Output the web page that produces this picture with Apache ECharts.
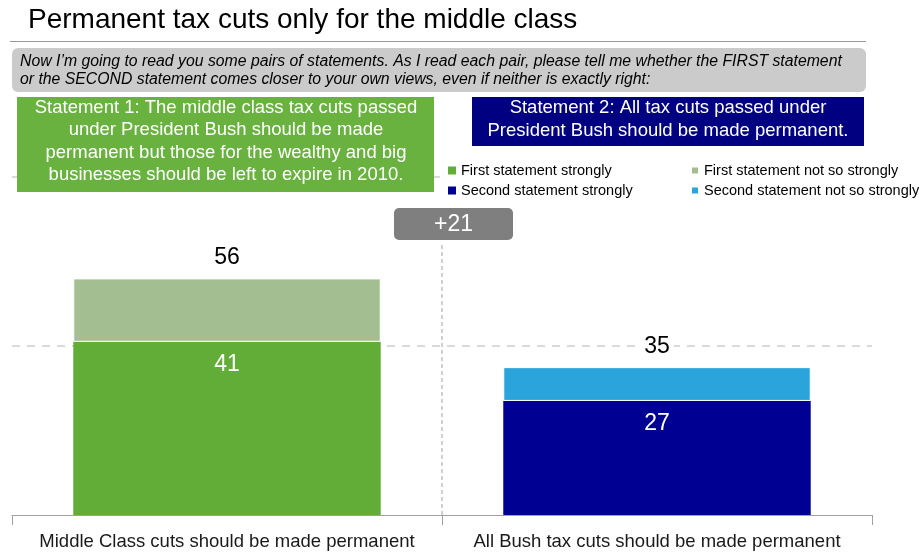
<!DOCTYPE html>
<html>
<head>
<meta charset="utf-8">
<script src="https://cdn.jsdelivr.net/npm/echarts@6/dist/echarts.min.js"></script>
<style>
  html, body { margin: 0; padding: 0; background: #fff; }
  #chart { width: 919px; height: 552px; }
</style>
</head>
<body>
<div id="chart"></div>
<script>
// Survey results: which statement comes closer to the respondent's views
const categories = [
  'Middle Class cuts should be made permanent',
  'All Bush tax cuts should be made permanent'
];
const firstStrongly    = [41, null];
const firstNotSo       = [15, null];
const secondStrongly   = [null, 27];
const secondNotSo      = [null, 8];
const seriesNames = [
  'First statement strongly',
  'First statement not so strongly',
  'Second statement strongly',
  'Second statement not so strongly'
];
const valueTicks = [0, 40, 80];

const totals = categories.map((_, i) =>
  (firstStrongly[i] || 0) + (firstNotSo[i] || 0) + (secondStrongly[i] || 0) + (secondNotSo[i] || 0));
const gap = totals[0] - totals[1];

const FONT = '"Liberation Sans", Arial, sans-serif';
const C_GREEN = '#62AD38';
const C_LGREEN = '#A3BF91';
const C_NAVY = '#000092';
const C_BLUE = '#2AA4DB';

const chart = echarts.init(document.getElementById('chart'), null, { renderer: 'canvas' });

const strongLabel = {
  show: true, position: 'insideTop', distance: 11,
  color: '#fff', fontSize: 23, fontFamily: FONT
};
const totalLabel = {
  show: true, position: 'top', distance: 9,
  color: '#000', fontSize: 23, fontFamily: FONT,
  backgroundColor: '#fff', padding: [0, 4],
  formatter: p => String(totals[p.dataIndex])
};

const legendBase = {
  orient: 'vertical', top: 159, itemWidth: 8, itemHeight: 8, itemGap: 5,
  icon: 'rect', backgroundColor: '#fff',
  textStyle: { fontSize: 14.5, fontFamily: FONT, color: '#000', lineHeight: 14 },
  selectedMode: false
};

chart.setOption({
  animation: false,
  textStyle: { fontFamily: FONT },
  grid: { left: 12, right: 47, top: 177, bottom: 37 },
  legend: [
    Object.assign({}, legendBase, { left: 445, padding: [4, 52, 4, 3],
      data: [seriesNames[0], seriesNames[2]] }),
    Object.assign({}, legendBase, { left: 687, padding: [4, 30, 4, 3],
      data: [seriesNames[1], seriesNames[3]] })
  ],
  xAxis: [{
    type: 'category',
    data: categories,
    axisLine: { lineStyle: { color: '#a0a0a0', width: 1 } },
    axisTick: { show: true, length: 10, lineStyle: { color: '#a0a0a0' } },
    axisLabel: { interval: 0, fontSize: 18.5, color: '#1a1a1a', margin: 17, fontFamily: FONT }
  }, {
    type: 'value', min: 0, max: categories.length, show: false
  }],
  yAxis: {
    type: 'value', min: valueTicks[0], max: valueTicks[valueTicks.length - 1],
    interval: valueTicks[1] - valueTicks[0],
    axisLabel: { show: false }, axisLine: { show: false }, axisTick: { show: false },
    splitLine: { showMinLine: false, lineStyle: { color: '#d9d9d9', width: 2, type: [8, 7] } }
  },
  series: [
    { name: seriesNames[0], type: 'bar', stack: 'all', barWidth: '71.5%',
      data: firstStrongly, itemStyle: { color: C_GREEN }, label: strongLabel },
    { name: seriesNames[1], type: 'bar', stack: 'all',
      data: firstNotSo, itemStyle: { color: C_LGREEN, borderColor: '#fff', borderWidth: 1 },
      label: totalLabel },
    { name: seriesNames[2], type: 'bar', stack: 'all',
      data: secondStrongly, itemStyle: { color: C_NAVY }, label: strongLabel },
    { name: seriesNames[3], type: 'bar', stack: 'all',
      data: secondNotSo, itemStyle: { color: C_BLUE, borderColor: '#fff', borderWidth: 1 },
      label: totalLabel },
    // dashed divider between the two columns, stopping under the gap badge
    { type: 'line', xAxisIndex: 1, symbol: 'none', silent: true, z: 1,
      data: [[1, 0], [1, 64]],
      lineStyle: { color: '#a0a0a0', width: 1, type: [4, 3] } }
  ],
  graphic: [
    { type: 'text', left: 28, top: 6,
      style: { text: 'Permanent tax cuts only for the middle class', font: '28px ' + FONT, fill: '#000' } },
    { type: 'line', shape: { x1: 10, y1: 41.5, x2: 866, y2: 41.5 },
      style: { stroke: '#9a9a9a', lineWidth: 1 } },
    { type: 'rect', shape: { x: 12, y: 48, width: 854, height: 44, r: 6 },
      style: { fill: '#cbcbcb' } },
    { type: 'text', x: 20, y: 71, z: 10,
      style: {
        text: 'Now I\u2019m going to read you some pairs of statements. As I read each pair, please tell me whether the FIRST statement\nor the SECOND statement comes closer to your own views, even if neither is exactly right:',
        font: 'italic 15.8px ' + FONT, fill: '#000', lineHeight: 18, verticalAlign: 'middle'
      } },
    { type: 'rect', z: 20, shape: { x: 17, y: 97, width: 417, height: 95 },
      style: { fill: '#6AB23F' } },
    { type: 'text', z: 21, x: 226, y: 141.5,
      style: {
        text: 'Statement 1: The middle class tax cuts passed\nunder President Bush should be made\npermanent but those for the wealthy and big\nbusinesses should be left to expire in 2010.',
        font: '18.5px ' + FONT, fill: '#fff', align: 'center', verticalAlign: 'middle', lineHeight: 22.5
      } },
    { type: 'rect', z: 20, shape: { x: 472, y: 97, width: 392, height: 49 },
      style: { fill: '#000080' } },
    { type: 'text', z: 21, x: 668, y: 119.5,
      style: {
        text: 'Statement 2: All tax cuts passed under\nPresident Bush should be made permanent.',
        font: '18.5px ' + FONT, fill: '#fff', align: 'center', verticalAlign: 'middle', lineHeight: 22.5
      } },
    { type: 'rect', z: 20, shape: { x: 394, y: 208, width: 119, height: 32, r: 5 },
      style: { fill: '#7f7f7f' } },
    { type: 'text', z: 21, x: 453.5, y: 225,
      style: { text: '+' + gap, font: '23px ' + FONT, fill: '#fff', align: 'center', verticalAlign: 'middle' } }
  ]
});
</script>
</body>
</html>
